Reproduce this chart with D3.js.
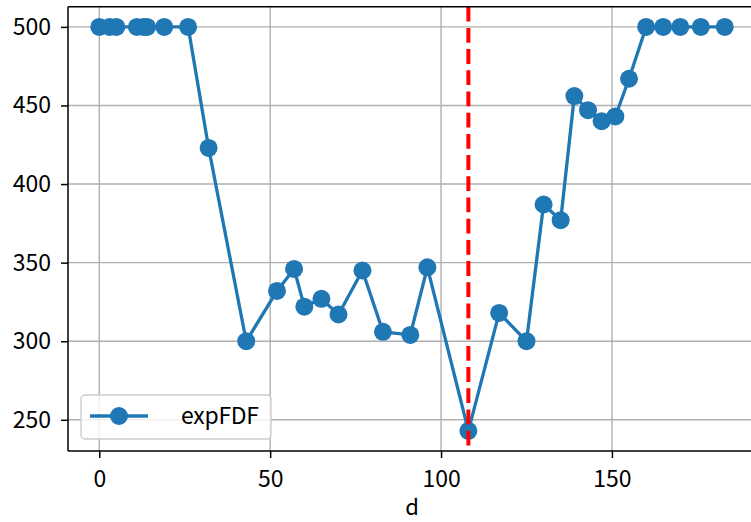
<!DOCTYPE html>
<html>
<head>
<meta charset="utf-8">
<script src="https://cdn.jsdelivr.net/npm/d3@7"></script>
<style>
  html, body { margin: 0; padding: 0; background: #fff; }
  svg { display: block; font-family: "Noto Sans CJK JP", "DejaVu Sans", sans-serif; }
</style>
</head>
<body>
<svg id="chart" width="751" height="522"></svg>
<script>
const dValues = [0,3,5,11,13,14,19,26,32,43,52,57,60,65,70,77,83,91,96,108,117,125,130,135,139,143,147,151,155,160,165,170,176,183];
const expFDF = [500,500,500,500,500,500,500,500,423,300,332,346,322,327,317,345,306,304,347,243,318,300,387,377,456,447,440,443,467,500,500,500,500,500];
const xTicks = [0, 50, 100, 150];
const yTicks = [250, 300, 350, 400, 450, 500];
const markerD = [108];
const seriesName = "expFDF";
const xLabel = "d";

(function () {
const mLeft = 68, mTop = 6.7, mRight = 756, mBottom = 451;
const FONT = "'Noto Sans CJK JP', sans-serif";
const FS = 23;

const svg = d3.select("#chart");

const xMin = d3.min(dValues), xMax = d3.max(dValues);
const xPad = (xMax - xMin) * 0.05;
const yMin = d3.min(expFDF), yMax = d3.max(expFDF);
const yPad = (yMax - yMin) * 0.05;

const x = d3.scaleLinear().domain([xMin - xPad, xMax + xPad]).range([mLeft, mRight]);
const y = d3.scaleLinear().domain([yMin - yPad, yMax + yPad]).range([mBottom, mTop]);

svg.append("defs").append("clipPath").attr("id", "plotclip")
  .append("rect").attr("x", mLeft).attr("y", mTop).attr("width", mRight - mLeft).attr("height", mBottom - mTop);

const plot = svg.append("g").attr("clip-path", "url(#plotclip)");

// grid
plot.append("g").selectAll("line").data(xTicks).join("line")
  .attr("x1", d => x(d)).attr("x2", d => x(d))
  .attr("y1", mTop).attr("y2", mBottom)
  .attr("stroke", "#b0b0b0").attr("stroke-width", 1.4);
plot.append("g").selectAll("line").data(yTicks).join("line")
  .attr("x1", mLeft).attr("x2", mRight)
  .attr("y1", d => y(d)).attr("y2", d => y(d))
  .attr("stroke", "#b0b0b0").attr("stroke-width", 1.4);

// series line
const pts = dValues.map((d, i) => [d, expFDF[i]]);
plot.append("path").datum(pts)
  .attr("fill", "none").attr("stroke", "#1f77b4").attr("stroke-width", 3.3)
  .attr("stroke-linejoin", "round")
  .attr("d", d3.line().x(p => x(p[0])).y(p => y(p[1])));
plot.append("g").selectAll("circle").data(pts).join("circle")
  .attr("cx", p => x(p[0])).attr("cy", p => y(p[1])).attr("r", 9)
  .attr("fill", "#1f77b4");

// red dashed line
plot.append("g").selectAll("line").data(markerD).join("line")
  .attr("x1", d => x(d)).attr("x2", d => x(d))
  .attr("y1", mTop).attr("y2", mBottom)
  .attr("stroke", "red").attr("stroke-width", 4)
  .attr("stroke-dasharray", "14.8,6.4");

// spines
const spine = svg.append("g").attr("stroke", "black").attr("stroke-width", 1.5).attr("fill", "none");
spine.append("line").attr("x1", mLeft).attr("x2", mLeft).attr("y1", mTop).attr("y2", mBottom);
spine.append("line").attr("x1", mLeft).attr("x2", mRight).attr("y1", mTop).attr("y2", mTop);
spine.append("line").attr("x1", mLeft).attr("x2", mRight).attr("y1", mBottom).attr("y2", mBottom);
spine.append("line").attr("x1", mRight).attr("x2", mRight).attr("y1", mTop).attr("y2", mBottom);

// axes
const xAxis = d3.axisBottom(x).tickValues(xTicks).tickSize(7).tickPadding(13).tickFormat(d3.format("d"));
const gx = svg.append("g").attr("transform", `translate(0,${mBottom})`).call(xAxis);
gx.select(".domain").remove();
gx.selectAll(".tick line").attr("stroke", "black").attr("stroke-width", 1.5);
gx.selectAll(".tick text").attr("font-size", FS).attr("fill", "black").attr("font-family", FONT);

const yAxis = d3.axisLeft(y).tickValues(yTicks).tickSize(7).tickPadding(10).tickFormat(d3.format("d"));
const gy = svg.append("g").attr("transform", `translate(${mLeft},0)`).call(yAxis);
gy.select(".domain").remove();
gy.selectAll(".tick line").attr("stroke", "black").attr("stroke-width", 1.5);
gy.selectAll(".tick text").attr("font-size", FS).attr("fill", "black").attr("font-family", FONT);

// x label
svg.append("text").attr("x", (mLeft + mRight) / 2).attr("y", 515)
  .attr("text-anchor", "middle").attr("font-size", 22).attr("font-family", FONT).text(xLabel);

// legend
const lg = svg.append("g");
lg.append("rect").attr("x", 81).attr("y", 395).attr("width", 190).attr("height", 44)
  .attr("rx", 4).attr("fill", "white").attr("fill-opacity", 0.8)
  .attr("stroke", "#cccccc").attr("stroke-width", 1.4);
lg.append("line").attr("x1", 90).attr("x2", 148).attr("y1", 416).attr("y2", 416)
  .attr("stroke", "#1f77b4").attr("stroke-width", 3.3);
lg.append("circle").attr("cx", 119).attr("cy", 416).attr("r", 9).attr("fill", "#1f77b4");
lg.append("text").attr("x", 181).attr("y", 424).attr("font-size", FS).attr("font-family", FONT)
  .attr("textLength", 78).attr("lengthAdjust", "spacing")
  .attr("fill", "black").text(seriesName);
})();
</script>
</body>
</html>
